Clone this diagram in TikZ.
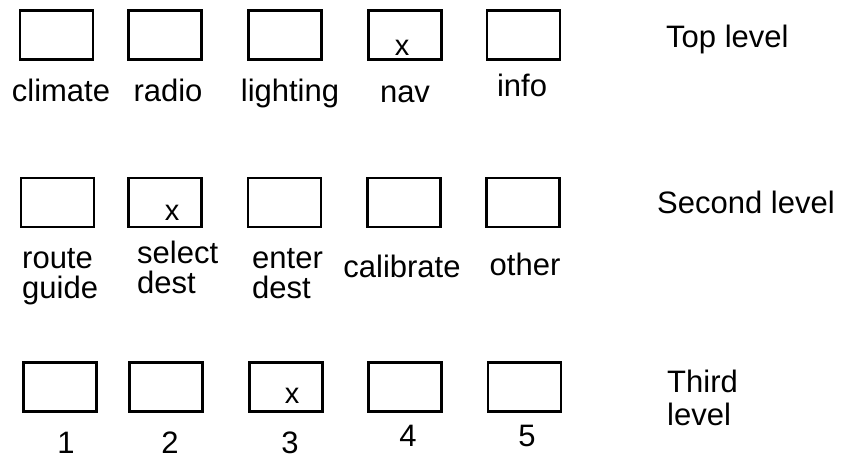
\documentclass[tikz,border=0pt]{standalone}
\usepackage{fontspec}
\setmainfont{Liberation Sans}
\begin{document}
\begin{tikzpicture}[x=1pt,y=-1pt,
  btn/.style={draw=black,line width=2.2pt,minimum width=73pt,minimum height=49pt,inner sep=0pt},
  lbl/.style={font=\fontsize{31}{31}\selectfont,inner sep=0pt,anchor=base},
  lbll/.style={font=\fontsize{31}{30}\selectfont,inner sep=0pt,anchor=base west,align=left},
  xmk/.style={font=\fontsize{29}{29}\selectfont,inner sep=0pt,anchor=base}]
\useasboundingbox (0,0) rectangle (843,458);
% top row
\node[btn] (t1) at (56.5,35) {};
\node[btn] (t2) at (165,35) {};
\node[btn] (t3) at (285,35) {};
\node[btn] (t4) at (405,35) {};
\node[btn] (t5) at (523.5,35) {};
\node[xmk] (tx) at (402,55) {x};
\node[lbl] (tl1) at (61,101) {climate};
\node[lbl] (tl2) at (168,101) {radio};
\node[lbl] (tl3) at (290,101) {lighting};
\node[lbl] (tl4) at (405,102) {nav};
\node[lbl] (tl5) at (522,96) {info};
\node[lbl,anchor=base west] (tlev) at (666,47) {Top level};
% second row
\node[btn] (s1) at (57.5,202.5) {};
\node[btn] (s2) at (165,202.5) {};
\node[btn] (s3) at (284.5,202.5) {};
\node[btn] (s4) at (404,202.5) {};
\node[btn] (s5) at (523,202.5) {};
\node[xmk] (sx) at (172,220) {x};
\node[lbll] (sl1) at (22,298) {route\\guide};
\node[lbll] (sl2) at (137,293) {select\\dest};
\node[lbll] (sl3) at (252,298) {enter\\dest};
\node[lbl] (sl4) at (402,277) {calibrate};
\node[lbl] (sl5) at (525,275) {other};
\node[lbl,anchor=base west] (slev) at (657,213) {Second level};
% third row
\node[btn] (r1) at (60,387) {};
\node[btn] (r2) at (166,387) {};
\node[btn] (r3) at (286,387) {};
\node[btn] (r4) at (405,387) {};
\node[btn] (r5) at (524.5,387) {};
\node[xmk] (rx) at (292,403) {x};
\node[lbl] (rl1) at (66,453) {1};
\node[lbl] (rl2) at (170,453) {2};
\node[lbl] (rl3) at (290,453) {3};
\node[lbl] (rl4) at (408,446) {4};
\node[lbl] (rl5) at (527,446) {5};
\node[lbll,font=\fontsize{31}{33}\selectfont] (rlev) at (667,425) {Third\\level};
\end{tikzpicture}
\end{document}
